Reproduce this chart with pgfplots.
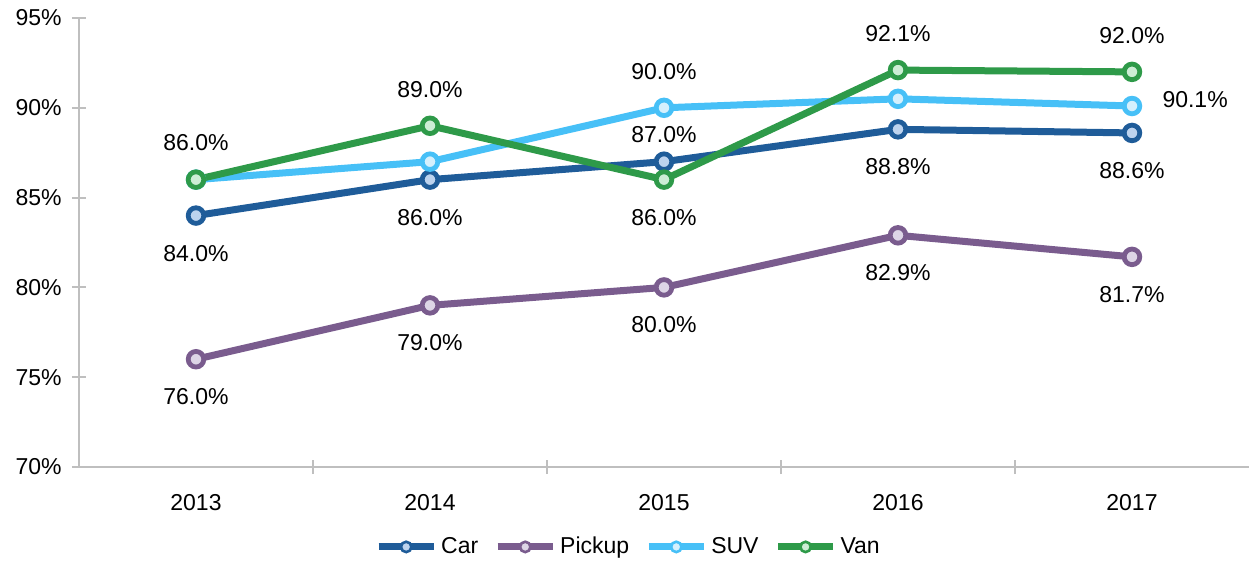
\documentclass[border=0pt]{standalone}
\usepackage{pgfplots}
\pgfplotsset{compat=1.18}
\usepackage{fontspec}
\setmainfont{Liberation Sans}
\usetikzlibrary{calc}
\definecolor{carC}{RGB}{31,92,153}
\definecolor{carF}{RGB}{189,211,238}
\definecolor{pickC}{RGB}{122,92,142}
\definecolor{pickF}{RGB}{221,213,230}
\definecolor{suvC}{RGB}{71,192,247}
\definecolor{suvF}{RGB}{213,240,253}
\definecolor{vanC}{RGB}{46,154,73}
\definecolor{vanF}{RGB}{204,237,213}
\definecolor{axC}{RGB}{191,191,191}
\begin{document}
\begin{tikzpicture}
\begin{axis}[
  scale only axis,
  width=585pt, height=224.5pt,
  xmin=-0.5, xmax=4.5,
  ymin=70, ymax=95,
  axis x line=bottom, axis y line=left,
  axis line style={-, draw=axC, line width=1pt},
  xtick={0,1,2,3,4},
  xticklabels={2013,2014,2015,2016,2017},
  minor xtick={0.5,1.5,2.5,3.5},
  ytick={70,75,80,85,90,95},
  yticklabels={70\%,75\%,80\%,85\%,90\%,95\%},
  major x tick style={draw=none},
  minor x tick style={draw=axC, line width=1pt},
  y tick style={draw=axC, line width=1pt},
  tick align=center,
  major tick length=7pt,
  minor tick length=7pt,
  tick label style={font=\fontsize{11.5}{13}\selectfont, text=black},
  xticklabel style={anchor=north, inner sep=0pt, yshift=-10pt},
  yticklabel style={anchor=east, inner sep=0pt, xshift=-5pt},
  clip=false,
  every axis plot/.append style={line width=3.5pt, mark=*, mark size=3.9pt},
  legend style={draw=none, at={(0.4705,-0.178)}, anchor=center,
    font=\fontsize{11.5}{13}\selectfont, legend columns=4,
    /tikz/every even column/.append style={column sep=6pt}},
  legend image code/.code={
    \draw[mark repeat=2,mark phase=2,#1,mark size=2.6pt, every mark/.append style={line width=1.3pt}]
      plot coordinates {(0pt,0pt)(13.75pt,0pt)(27.5pt,0pt)};},
  lbl/.style={draw=none, mark=none, forget plot, point meta=explicit symbolic,
    nodes near coords, every node near coord/.append style={font=\fontsize{11.5}{13}\selectfont, text=black, inner sep=0pt}},
  above lbl/.style={lbl, every node near coord/.append style={anchor=south, yshift=12.5pt}},
  below lbl/.style={lbl, every node near coord/.append style={anchor=north, yshift=-13pt}},
]
\addplot[carC, mark options={fill=carF, draw=carC, line width=2.4pt}]
  coordinates {(0,84.0) (1,86.0) (2,87.0) (3,88.8) (4,88.6)};
\addlegendentry{Car}
\addplot[pickC, mark options={fill=pickF, draw=pickC, line width=2.4pt}]
  coordinates {(0,76.0) (1,79.0) (2,80.0) (3,82.9) (4,81.7)};
\addlegendentry{Pickup}
\addplot[suvC, mark options={fill=suvF, draw=suvC, line width=2.4pt}]
  coordinates {(0,86.0) (1,87.0) (2,90.0) (3,90.5) (4,90.1)};
\addlegendentry{SUV}
\addplot[vanC, mark options={fill=vanF, draw=vanC, line width=2.4pt}]
  coordinates {(0,86.0) (1,89.0) (2,86.0) (3,92.1) (4,92.0)};
\addlegendentry{Van}
% labels above
\addplot[above lbl] coordinates {(0,86.0)[86.0\%] (1,89.0)[89.0\%] (2,90.0)[90.0\%] (3,92.1)[92.1\%] (4,92.0)[92.0\%]};
\addplot[lbl, every node near coord/.append style={anchor=south, yshift=7.5pt}] coordinates {(2,87.0)[87.0\%]};
% labels below
\addplot[below lbl] coordinates {(0,84.0)[84.0\%] (1,86.0)[86.0\%] (2,86.0)[86.0\%] (3,88.8)[88.8\%] (4,88.6)[88.6\%]};
\addplot[below lbl] coordinates {(0,76.0)[76.0\%] (1,79.0)[79.0\%] (2,80.0)[80.0\%] (3,82.9)[82.9\%] (4,81.7)[81.7\%]};
% right label
\addplot[lbl, every node near coord/.append style={anchor=west, xshift=13.5pt, yshift=3pt}] coordinates {(4,90.1)[90.1\%]};
\end{axis}
\pgfresetboundingbox
\path ($(current axis.south west)+(-39.5pt,-48pt)$) rectangle ($(current axis.north east)+(0pt,9pt)$);
\end{tikzpicture}
\end{document}
